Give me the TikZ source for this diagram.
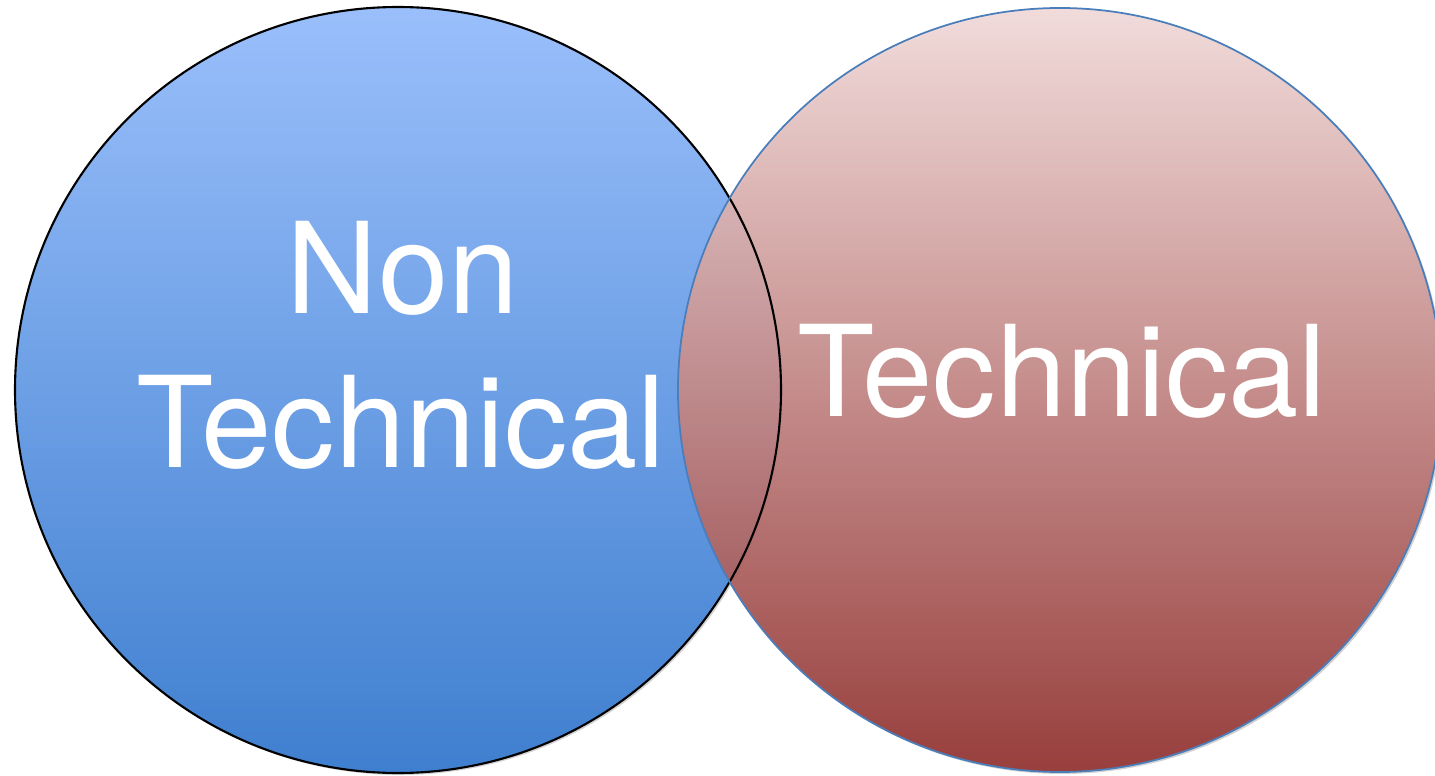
\documentclass[tikz,border=0pt]{standalone}
\usepackage{fontspec}
\usepackage{tikz}
\newfontfamily\vennfont{TeX Gyre Heros}
\definecolor{nontop}{HTML}{9ABFFB}
\definecolor{nonbot}{HTML}{3F7FCF}
\definecolor{techtop}{HTML}{F2DCDB}
\definecolor{techbot}{HTML}{953735}
\definecolor{techline}{HTML}{4A7EBB}

\begin{document}
\begin{tikzpicture}[x=0.01cm,y=-0.01cm,
	venntext/.style={text=white,font=\vennfont\fontsize{36}{43}\selectfont,inner sep=0pt,anchor=base}]
	\useasboundingbox (0,0) rectangle (1435,776);
	\clip (0,0) rectangle (1435,776);
	% shadows
	\fill[black,opacity=0.18] (400,392) circle (383);
	\fill[black,opacity=0.18] (1062,392) circle (382);
	% non technical
	\shade[top color=nontop,bottom color=nonbot] (398,390) circle (383);
	\node[venntext] (non) at (403,314) {Non};
	\node[venntext] (nontech) at (401,468) {Technical};
	% technical
	\shade[top color=techtop,bottom color=techbot,fill opacity=0.95] (1060,390) circle (382);
	\draw[black,line width=0.6pt] (398,390) circle (383);
	\draw[techline,line width=0.5pt] (1060,390) circle (382);
	\node[venntext] (tech) at (1062,417) {Technical};
\end{tikzpicture}
\end{document}
